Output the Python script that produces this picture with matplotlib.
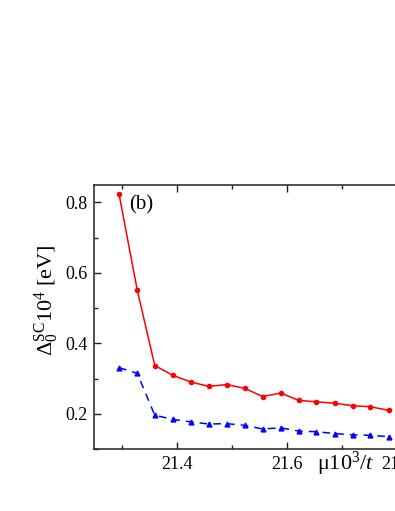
import matplotlib
matplotlib.use("Agg")
import matplotlib.pyplot as plt
from matplotlib.ticker import MultipleLocator

mu = [21.295, 21.328, 21.360, 21.393, 21.426, 21.458, 21.491, 21.524,
      21.556, 21.589, 21.622, 21.654, 21.687, 21.720, 21.752, 21.785]
gap_red = [0.824, 0.552, 0.337, 0.309, 0.290, 0.278, 0.283, 0.272,
           0.249, 0.259, 0.238, 0.234, 0.230, 0.223, 0.220, 0.210]
gap_blue = [0.331, 0.315, 0.196, 0.184, 0.177, 0.171, 0.172, 0.167,
            0.157, 0.160, 0.151, 0.149, 0.144, 0.140, 0.139, 0.135]

plt.rcParams['font.family'] = ['Liberation Serif', 'DejaVu Serif']
plt.rcParams['mathtext.fontset'] = 'custom'
plt.rcParams['mathtext.rm'] = 'Liberation Serif'
plt.rcParams['mathtext.it'] = 'Liberation Serif:italic'

fig = plt.figure(figsize=(3.95, 5.11), dpi=100)
ax = fig.add_axes([0.2387, 0.1213, 0.8354, 0.517])

ax.plot(mu, gap_red, color='#ff0000', lw=1.1, marker='o', ms=3, mec='#ff0000')
ax.plot(mu, gap_blue, color='#0000ff', lw=1.1, ls=(0, (5, 4)), marker='^', ms=3.5, mec='#0000ff')

ax.set_xlim(21.25, 21.85)
ax.set_ylim(0.1, 0.85)
ax.xaxis.set_minor_locator(MultipleLocator(0.1))
ax.yaxis.set_minor_locator(MultipleLocator(0.1))
ax.set_xticks([21.4, 21.6, 21.8])
ax.set_xticklabels(['21.4', '21.6', '21.8'])
ax.set_yticks([0.2, 0.4, 0.6, 0.8])
ax.set_yticklabels(['0.2', '0.4', '0.6', '0.8'])
ax.tick_params(which='both', direction='in', top=True, right=True, labelsize=13,
               color='#222222', labelcolor='black')
ax.tick_params(which='major', length=5, width=1, pad=5)
ax.tick_params(which='minor', length=3, width=1)
for s in ax.spines.values():
    s.set_linewidth(1.1)
    s.set_color('#222222')

fig.text(47 / 395, 1 - 300 / 511, r'$\Delta_0^{\mathrm{SC}}10^4$ [eV]', fontsize=16,
         rotation=90, ha='center', va='center')
fig.text(317 / 395, 1 - 464 / 511, r'μ10$^3$/$t$', fontsize=16, ha='left', va='center')
ax.text(0.106, 0.962, '(b)', transform=ax.transAxes, fontsize=15, va='top', ha='left')

fig.savefig('out.png', dpi=100)
